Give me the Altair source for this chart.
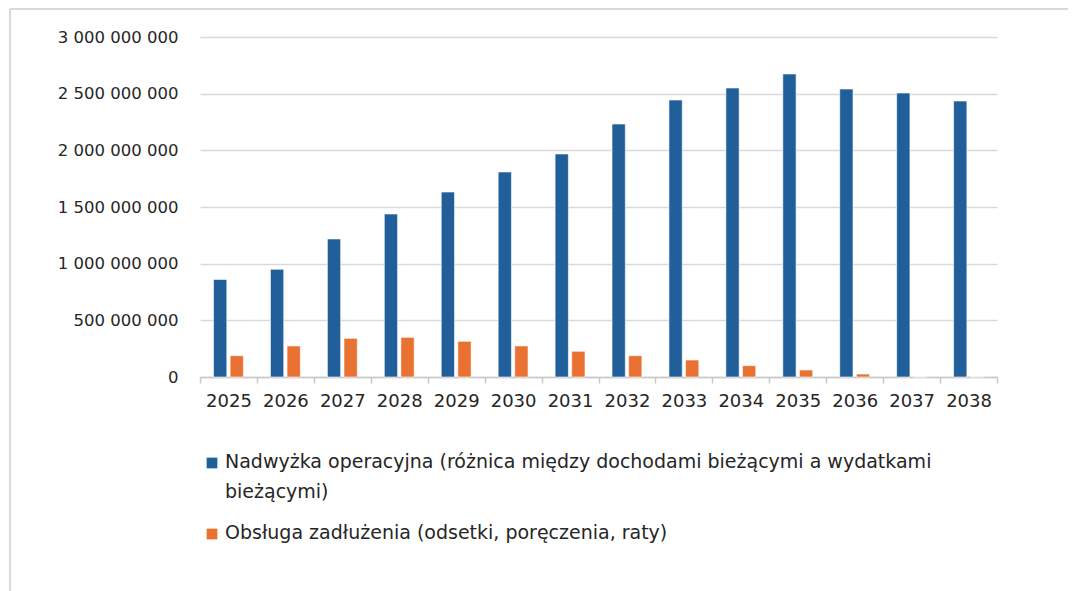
import altair as alt
import pandas as pd

years = [str(y) for y in range(2025, 2039)]
series = [
    "Nadwyżka operacyjna (różnica między dochodami bieżącymi a wydatkami bieżącymi)",
    "Obsługa zadłużenia (odsetki, poręczenia, raty)",
]
surplus = [860e6, 950e6, 1218e6, 1438e6, 1632e6, 1809e6, 1968e6, 2232e6,
           2444e6, 2550e6, 2674e6, 2541e6, 2506e6, 2435e6]
debt = [188e6, 274e6, 341e6, 350e6, 315e6, 274e6, 227e6, 188e6,
        150e6, 100e6, 62e6, 26e6, 0, 0]
legend_lines = [
    ["Nadwyżka operacyjna (różnica między dochodami bieżącymi a wydatkami", "bieżącymi)"],
    ["Obsługa zadłużenia (odsetki, poręczenia, raty)"],
]
colors = ["#215F9A", "#E97132"]

rows = []
for i, y in enumerate(years):
    rows.append({"year": y, "series": series[0], "value": surplus[i]})
    rows.append({"year": y, "series": series[1], "value": debt[i]})
df = pd.DataFrame(rows)
leg = pd.DataFrame({"series": series, "lines": legend_lines})

FONT = "DejaVu Sans"
color_scale = alt.Scale(domain=series, range=colors)

bars = alt.Chart(df).mark_bar(stroke="white", strokeWidth=0.6).encode(
    x=alt.X("year:N", sort=years, title=None,
            scale=alt.Scale(paddingInner=0, paddingOuter=0),
            axis=alt.Axis(labelAngle=0, labelFont=FONT, labelFontSize=18, labelColor="#262626",
                          tickBand="extent", tickSize=6, tickColor="#c8c8c8", tickWidth=1.5,
                          domainColor="#c8c8c8", domainWidth=1.5, labelPadding=9, grid=False)),
    xOffset=alt.XOffset("series:N", sort=series,
                        scale=alt.Scale(paddingInner=0.2, paddingOuter=0.815)),
    y=alt.Y("value:Q", title=None,
            scale=alt.Scale(domain=[0, 3e9], nice=False),
            axis=alt.Axis(values=[0, 5e8, 1e9, 1.5e9, 2e9, 2.5e9, 3e9],
                          labelExpr="replace(format(datum.value, ','), /,/g, ' ')",
                          labelFont=FONT, labelFontSize=16.5, labelColor="#262626",
                          ticks=False, tickSize=0, domain=False, labelPadding=22,
                          gridColor="#d9d9d9", gridWidth=1.5)),
    color=alt.Color("series:N", scale=color_scale, legend=None),
)

border = alt.Chart(df).mark_rule(color="#d9d9d9", strokeWidth=2).encode(
    x=alt.value(-190), y=alt.value(-28), y2=alt.value(600)
) + alt.Chart(df).mark_rule(color="#d9d9d9", strokeWidth=2).encode(
    x=alt.value(-190), x2=alt.value(900), y=alt.value(-28)
)

leg_y = alt.Y("series:N", sort=series,
              scale=alt.Scale(type="point", domain=series, range=[431, 502], padding=0),
              axis=None)
leg_sq = alt.Chart(leg).mark_square(size=115, opacity=1, yOffset=-5).encode(
    x=alt.value(12), y=leg_y,
    color=alt.Color("series:N", scale=color_scale, legend=None),
)
leg_tx = alt.Chart(leg).mark_text(align="left", baseline="alphabetic", font=FONT,
                                  fontSize=19, lineHeight=30, color="#262626").encode(
    x=alt.value(25), y=leg_y, text="lines"
)

chart = alt.layer(border, bars, leg_sq, leg_tx).resolve_scale(
    y="independent"
).properties(
    width=797, height=340,
    autosize=alt.AutoSizeParams(type="none"),
    padding={"left": 192, "top": 29, "right": 71, "bottom": 214},
).configure_view(stroke=None)

chart.save("out.html", embed_options={"renderer": "svg", "actions": False})
